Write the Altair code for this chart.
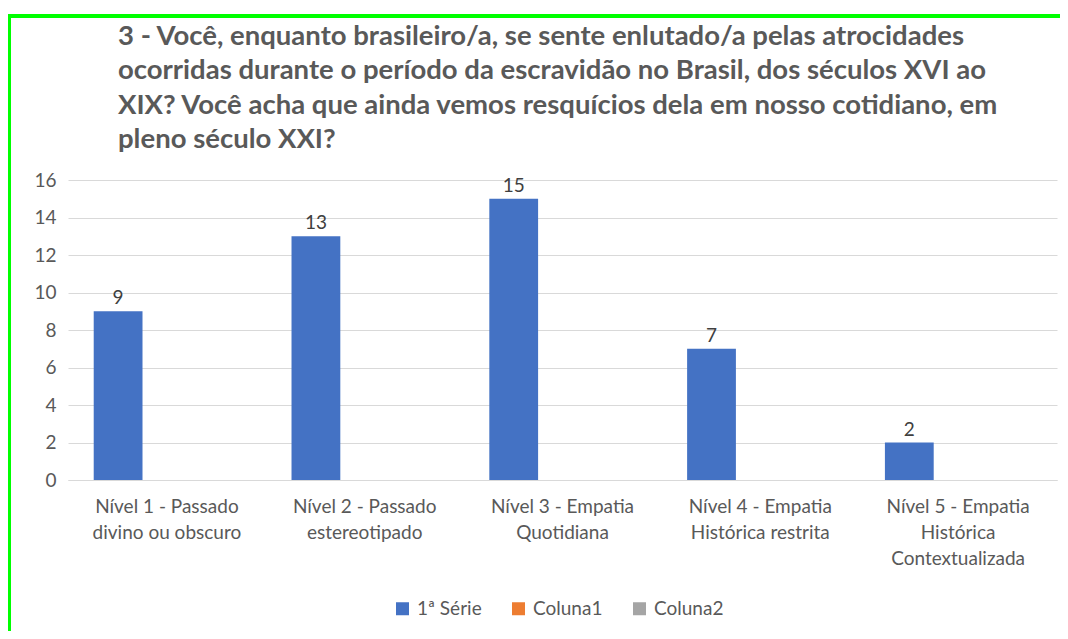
import altair as alt
import pandas as pd

categories = [
    "Nível 1 - Passado\ndivino ou obscuro",
    "Nível 2 - Passado\nestereotipado",
    "Nível 3 - Empatia\nQuotidiana",
    "Nível 4 - Empatia\nHistórica restrita",
    "Nível 5 - Empatia\nHistórica\nContextualizada",
]
series_names = ["1ª Série", "Coluna1", "Coluna2"]
serie1 = [9, 13, 15, 7, 2]
coluna1 = [0, 0, 0, 0, 0]
coluna2 = [0, 0, 0, 0, 0]
colors = ["#4472C4", "#ED7D31", "#A5A5A5"]
y_ticks = [0, 2, 4, 6, 8, 10, 12, 14, 16]
title_lines = [
    "3 - Você, enquanto brasileiro/a, se sente enlutado/a pelas atrocidades",
    "ocorridas durante o período da escravidão no Brasil, dos séculos XVI ao",
    "XIX? Você acha que ainda vemos resquícios dela em nosso cotidiano, em",
    "pleno século XXI?",
]

rows = []
for name, vals in zip(series_names, [serie1, coluna1, coluna2]):
    for c, v in zip(categories, vals):
        rows.append({"cat": c, "serie": name, "valor": v})
df = pd.DataFrame(rows)

FONT = "Lato"
TXT = "#595959"
FS = 19

x_enc = alt.X(
    "cat:N",
    sort=categories,
    scale=alt.Scale(paddingInner=0.26, paddingOuter=0.13),
    axis=alt.Axis(
        title=None,
        labelAngle=0,
        labelExpr="split(datum.label, '\\n')",
        labelLineHeight=26,
        labelPadding=17,
        labelFontSize=FS,
        labelColor=TXT,
        labelFont=FONT,
        ticks=False,
        domainColor="#d9d9d9",
        grid=False,
    ),
)
xoff = alt.XOffset("serie:N", sort=series_names,
                   scale=alt.Scale(domain=series_names, paddingInner=0, paddingOuter=0))
y_axis = alt.Axis(
    title=None,
    values=y_ticks,
    labelOverlap=False,
    labelFontSize=FS,
    labelColor=TXT,
    labelFont=FONT,
    labelPadding=12,
    ticks=False,
    domain=False,
    gridColor="#d9d9d9",
    gridWidth=1,
)
y_enc = alt.Y("valor:Q", scale=alt.Scale(domain=[0, 16], nice=False), axis=y_axis)

bars = alt.Chart(df).mark_bar().encode(
    x=x_enc,
    xOffset=xoff,
    y=y_enc,
    color=alt.Color(
        "serie:N",
        scale=alt.Scale(domain=series_names, range=colors),
        legend=alt.Legend(
            title=None,
            orient="none",
            direction="horizontal",
            legendX=325,
            legendY=419,
            symbolType="square",
            symbolSize=169,
            symbolStrokeWidth=0,
            labelFontSize=FS,
            labelFont=FONT,
            labelColor=TXT,
            columnPadding=27,
            labelOffset=5,
        ),
    ),
)

labels = alt.Chart(df).transform_filter(
    alt.datum.serie == "1ª Série"
).mark_text(
    baseline="alphabetic", dy=-7, fontSize=FS, font=FONT, color="#404040"
).encode(
    x=alt.X("cat:N", sort=categories),
    xOffset=alt.XOffset("serie:N", sort=series_names),
    y=alt.Y("valor:Q", axis=y_axis),
    text="valor:Q",
)

title_df = pd.DataFrame({"t": ["\n".join(title_lines)]})
title = alt.Chart(title_df).mark_text(
    align="left", baseline="top", lineBreak="\n", lineHeight=34.3,
    fontSize=27.5, font=FONT, fontWeight="bold", color=TXT,
).encode(x=alt.value(50), y=alt.value(-157), text="t:N")

border_top = alt.Chart(df).mark_rule(color="#00FF00", strokeWidth=4).encode(
    x=alt.value(-61), x2=alt.value(992), y=alt.value(-164)
)
border_left = alt.Chart(df).mark_rule(color="#00FF00", strokeWidth=4).encode(
    x=alt.value(-59), y=alt.value(-166), y2=alt.value(451)
)

chart = alt.layer(bars, labels, title, border_top, border_left).properties(
    width=989,
    height=300,
    autosize=alt.AutoSizeParams(type="none"),
    padding={"left": 60, "top": 172, "right": 3, "bottom": 151},
).configure(background="white").configure_view(stroke=None)

chart.save("out.html", embed_options={"renderer": "svg", "actions": False})
